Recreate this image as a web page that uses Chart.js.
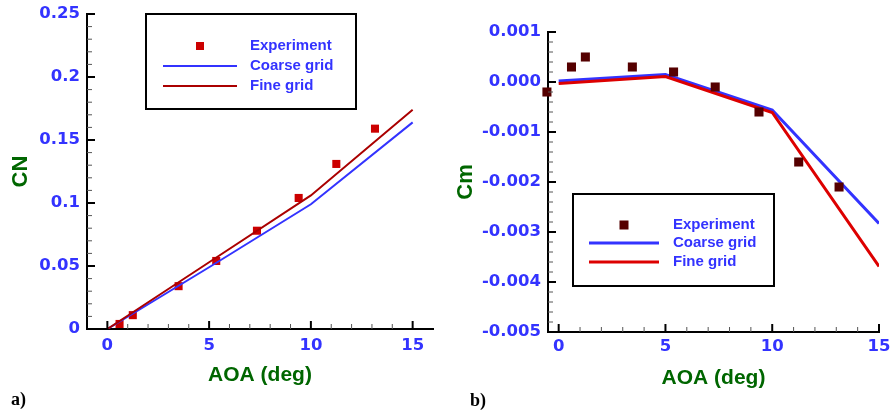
<!DOCTYPE html>
<html>
<head>
<meta charset="utf-8">
<script src="https://cdn.jsdelivr.net/npm/chart.js@4"></script>
<style>
    html, body { margin: 0; padding: 0; background: #ffffff; }
    #wrap { position: relative; width: 891px; height: 416px; }
    #cnChart { position: absolute; left: 0; top: 0; }
    #cmChart { position: absolute; left: 450px; top: 0; }
</style>
</head>
<body>
<div id="wrap">
    <canvas id="cnChart" width="450" height="416"></canvas>
    <canvas id="cmChart" width="441" height="416"></canvas>
</div>
<script>
// ---- data ----
const cfdAoa = [0, 5, 10, 15];

// a) normal force
const expAoaCN = [0.6, 1.25, 3.5, 5.35, 7.35, 9.4, 11.25, 13.15];
const expCN = [0.004, 0.011, 0.034, 0.054, 0.078, 0.104, 0.131, 0.159];
const coarseCN = [0, 0.049, 0.099, 0.164];
const fineCN = [0, 0.053, 0.106, 0.174];

// b) pitching moment
const expAoaCm = [-0.55, 0.6, 1.25, 3.45, 5.38, 7.33, 9.38, 11.24, 13.13];
const expCm = [-0.0002, 0.0003, 0.0005, 0.0003, 0.0002, -0.0001, -0.0006, -0.0016, -0.0021];
const coarseCm = [0.00002, 0.00015, -0.00056, -0.00283];
const fineCm = [-0.00003, 0.00011, -0.00061, -0.00369];

const xTickLabels = ["0", "5", "10", "15"];
const cnTickLabels = ["0", "0.05", "0.1", "0.15", "0.2", "0.25"];
const cmTickLabels = ["-0.005", "-0.004", "-0.003", "-0.002", "-0.001", "0.000", "0.001"];
const seriesNames = ["Experiment", "Coarse grid", "Fine grid"];

const SANS = '"Liberation Sans", Arial, Helvetica, sans-serif';
const WIDE = '"DejaVu Sans", Verdana, sans-serif';
const BLUE_TXT = "#3333ff";
const GREEN_TXT = "#006600";

function pts(xs, ys) {
    return xs.map((x, i) => ({ x: x, y: ys[i] }));
}

function isMajor(v, step) {
    const r = v / step;
    return Math.abs(r - Math.round(r)) < 1e-6;
}

// major ticks come straight from the label lists
function ticksFrom(list) {
    return function (scale) {
        scale.ticks = list.map((s) => ({ value: parseFloat(s) }));
    };
}

function labelFrom(list) {
    return function (value, i) {
        return list[i];
    };
}

// minor tick values between lo and hi, every step
function stepsBetween(lo, hi, step) {
    const out = [];
    const n0 = Math.ceil(lo / step - 1e-6), n1 = Math.floor(hi / step + 1e-6);
    for (let n = n0; n <= n1; n++) out.push(n * step);
    return out;
}

// inward tick marks, legend box and panel letter
function decorPlugin(cfg) {
    return {
        id: "decor",
        afterDraw(chart) {
            const ctx = chart.ctx;
            const xs = chart.scales.x, ys = chart.scales.y;
            const area = chart.chartArea;
            ctx.save();
            stepsBetween(0, 15, 1).forEach((v) => {
                const major = isMajor(v, cfg.xMajor);
                const p = xs.getPixelForValue(v);
                ctx.strokeStyle = major ? "#000" : "#555";
                ctx.lineWidth = major ? 2 : 1;
                ctx.beginPath();
                ctx.moveTo(p, area.bottom);
                ctx.lineTo(p, area.bottom - (major ? 8 : 5));
                ctx.stroke();
            });
            stepsBetween(ys.min, ys.max, cfg.yStep).forEach((v) => {
                const major = isMajor(v, cfg.yMajor);
                const p = ys.getPixelForValue(v);
                ctx.strokeStyle = major ? "#000" : "#555";
                ctx.lineWidth = major ? 2 : 1;
                ctx.beginPath();
                ctx.moveTo(area.left, p);
                ctx.lineTo(area.left + (major ? 8 : 5), p);
                ctx.stroke();
            });

            // legend
            const L = cfg.legend;
            const ds = chart.data.datasets;
            ctx.fillStyle = "#fff";
            ctx.fillRect(L.x, L.y, L.w, L.h);
            ctx.lineWidth = 2;
            ctx.strokeStyle = "#000";
            ctx.strokeRect(L.x, L.y, L.w, L.h);
            ctx.font = "bold 15px " + SANS;
            ctx.textBaseline = "middle";
            seriesNames.forEach((name, i) => {
                const d = ds.find((s) => s.label === name);
                const ry = L.rows[i];
                if (d.showLine) {
                    ctx.strokeStyle = d.borderColor;
                    ctx.lineWidth = d.borderWidth;
                    ctx.beginPath();
                    ctx.moveTo(L.lineX0, ry);
                    ctx.lineTo(L.lineX1, ry);
                    ctx.stroke();
                } else {
                    const s = L.marker;
                    ctx.fillStyle = d.pointBackgroundColor;
                    ctx.fillRect((L.lineX0 + L.lineX1) / 2 - s / 2, ry - s / 2, s, s);
                }
                ctx.fillStyle = BLUE_TXT;
                ctx.fillText(name, L.textX, ry);
            });

            // panel letter
            ctx.fillStyle = "#000";
            ctx.font = 'bold 18px "Liberation Serif", "Times New Roman", serif';
            ctx.fillText(cfg.panel.text, cfg.panel.x, cfg.panel.y);
            ctx.restore();
        },
    };
}

function buildChart(canvasId, c) {
    const ctx = document.getElementById(canvasId).getContext("2d");
    return new Chart(ctx, {
        type: "scatter",
        data: {
            datasets: [
                {
                    label: "Experiment",
                    data: pts(c.expX, c.expY),
                    showLine: false,
                    pointStyle: "rect",
                    pointRadius: c.markerR,
                    pointHoverRadius: c.markerR,
                    pointBackgroundColor: c.expColor,
                    pointBorderColor: c.expColor,
                    pointBorderWidth: 0,
                    order: c.expOrder,
                    clip: false,
                },
                {
                    label: "Coarse grid",
                    data: pts(cfdAoa, c.coarse),
                    showLine: true,
                    borderColor: "#3333ff",
                    borderWidth: c.lineW,
                    pointRadius: 0,
                    order: 2,
                },
                {
                    label: "Fine grid",
                    data: pts(cfdAoa, c.fine),
                    showLine: true,
                    borderColor: c.fineColor,
                    borderWidth: c.lineW,
                    pointRadius: 0,
                    order: 1,
                },
            ],
        },
        options: {
            responsive: false,
            animation: false,
            devicePixelRatio: 1,
            layout: { padding: { left: 0, right: c.padRight, top: c.padTop, bottom: 0 } },
            plugins: { legend: { display: false }, tooltip: { enabled: false } },
            scales: {
                x: {
                    type: "linear",
                    min: c.xMin,
                    max: c.xMax,
                    grid: { display: false, drawTicks: false, tickLength: 0 },
                    border: { display: true, color: "#000", width: 2 },
                    afterBuildTicks: ticksFrom(xTickLabels),
                    afterFit: (s) => {
                        s.height = c.xAxisH;
                        s.paddingLeft = 0;
                        s.paddingRight = 0;
                    },
                    ticks: {
                        autoSkip: false,
                        maxRotation: 0,
                        padding: c.xTickPad,
                        color: BLUE_TXT,
                        font: { family: WIDE, size: 16.5, weight: "bold" },
                        callback: labelFrom(xTickLabels),
                    },
                    title: {
                        display: true,
                        text: "AOA (deg)",
                        color: GREEN_TXT,
                        font: { family: SANS, size: 21, weight: "bold" },
                        padding: { top: 0, bottom: c.xTitlePad },
                    },
                },
                y: {
                    type: "linear",
                    min: c.yMin,
                    max: c.yMax,
                    grid: { display: false, drawTicks: false, tickLength: 0 },
                    border: { display: true, color: "#000", width: 2 },
                    afterBuildTicks: ticksFrom(c.yLabels),
                    afterFit: (s) => {
                        s.width = c.yAxisW;
                        s.paddingTop = 0;
                        s.paddingBottom = 0;
                    },
                    ticks: {
                        autoSkip: false,
                        padding: 7,
                        color: BLUE_TXT,
                        font: { family: WIDE, size: 16.5, weight: "bold" },
                        callback: labelFrom(c.yLabels),
                    },
                    title: {
                        display: true,
                        text: c.yTitle,
                        color: GREEN_TXT,
                        font: { family: SANS, size: 22, weight: "bold" },
                        padding: { top: c.yTitlePad, bottom: 0 },
                    },
                },
            },
        },
        plugins: [decorPlugin({
            xMajor: 5,
            yStep: c.yStep,
            yMajor: c.yMajor,
            legend: c.legend,
            panel: c.panel,
        })],
    });
}

document.addEventListener("DOMContentLoaded", function () {
    buildChart("cnChart", {
        expX: expAoaCN, expY: expCN, coarse: coarseCN, fine: fineCN,
        expColor: "#cc0000", fineColor: "#aa0000", markerR: 5.7, lineW: 2, expOrder: 3,
        xMin: -1, xMax: 16, yMin: 0, yMax: 0.25, yStep: 0.01, yMajor: 0.05,
        yLabels: cnTickLabels, yTitle: "CN",
        padTop: 14, padRight: 17, xAxisH: 87, yAxisW: 87,
        xTickPad: 7, xTitlePad: 28, yTitlePad: 8,
        legend: { x: 146, y: 14, w: 210, h: 95, rows: [46, 66, 86], lineX0: 163, lineX1: 237, textX: 250, marker: 8 },
        panel: { text: "a)", x: 11, y: 400 },
    });

    buildChart("cmChart", {
        expX: expAoaCm, expY: expCm, coarse: coarseCm, fine: fineCm,
        expColor: "#550000", fineColor: "#dd0000", markerR: 6.4, lineW: 3, expOrder: 0,
        xMin: -0.5, xMax: 15, yMin: -0.005, yMax: 0.001, yStep: 0.0002, yMajor: 0.001,
        yLabels: cmTickLabels, yTitle: "Cm",
        padTop: 32, padRight: 12, xAxisH: 84, yAxisW: 98,
        xTickPad: 5, xTitlePad: 25, yTitlePad: 3,
        legend: { x: 123, y: 194, w: 201, h: 92, rows: [225, 243, 262], lineX0: 139, lineX1: 209, textX: 223, marker: 9 },
        panel: { text: "b)", x: 20, y: 401 },
    });
});
</script>
</body>
</html>
